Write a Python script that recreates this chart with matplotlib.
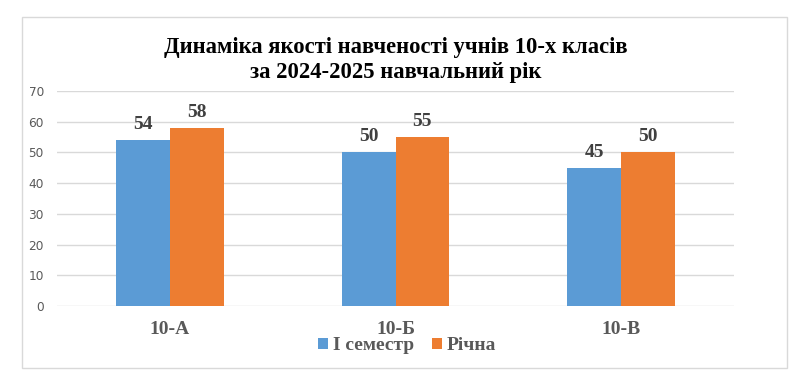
import matplotlib
matplotlib.use("Agg")
import matplotlib.pyplot as plt
import numpy as np
from matplotlib.patches import Rectangle

categories = ["10-А", "10-Б", "10-В"]
semester = [54, 50, 45]
annual = [58, 55, 50]
series_names = ["І семестр", "Річна"]
yticks = [0, 10, 20, 30, 40, 50, 60, 70]
title = "Динаміка якості навченості учнів 10-х класів\nза 2024-2025 навчальний рік"

blue = "#5B9BD5"
orange = "#ED7D31"

W, H = 792, 377
fig = plt.figure(figsize=(W/100, H/100), dpi=100)
ax = fig.add_axes([57/W, 1-306/H, (734-57)/W, (306-91)/H])

x = np.arange(len(categories))
bw = 0.238
b1 = ax.bar(x - bw/2, semester, bw, color=blue, label=series_names[0], zorder=3)
b2 = ax.bar(x + bw/2, annual, bw, color=orange, label=series_names[1], zorder=3)

serif = "Liberation Serif"
for bars, vals in ((b1, semester), (b2, annual)):
    for r, v in zip(bars, vals):
        ax.annotate(str(v), (r.get_x() + r.get_width()/2, v), xytext=(0, 5),
                    textcoords="offset points", ha="center", va="bottom",
                    fontfamily=serif, fontweight="bold", fontsize=14, color="#404040")

ax.set_xlim(-0.5, len(categories) - 0.5)
ax.set_ylim(0, 70)
ax.set_yticks(yticks)
ax.set_yticklabels([str(t) for t in yticks], fontsize=8.7, color="#595959")
ax.tick_params(axis="y", length=0, pad=9.5)
ax.set_xticks(x)
ax.set_xticklabels(categories, fontfamily=serif, fontweight="bold", fontsize=14, color="#595959")
ax.tick_params(axis="x", length=0, pad=11)
ax.grid(axis="y", color="#D9D9D9", linewidth=1, zorder=0)
for s in ax.spines.values():
    s.set_visible(False)

fig.text(0.5, 1-60/H, title, ha="center", va="center", fontfamily=serif,
         fontweight="bold", fontsize=16.3, color="black", linespacing=1.2)

fig.legend(handles=[b1, b2], labels=series_names, loc="center",
           bbox_to_anchor=(407/W, 1-346/H), ncol=2, frameon=False,
           prop={"family": serif, "weight": "bold", "size": 14},
           labelcolor="#595959", handlelength=0.52, handleheight=0.52,
           handletextpad=0.25, columnspacing=0.95)

fig.patches.append(Rectangle((22/W, 1-368/H), (787-22)/W, (368-17)/H,
                             transform=fig.transFigure, fill=False,
                             edgecolor="#D9D9D9", linewidth=1))

fig.savefig("out.png", dpi=100)
